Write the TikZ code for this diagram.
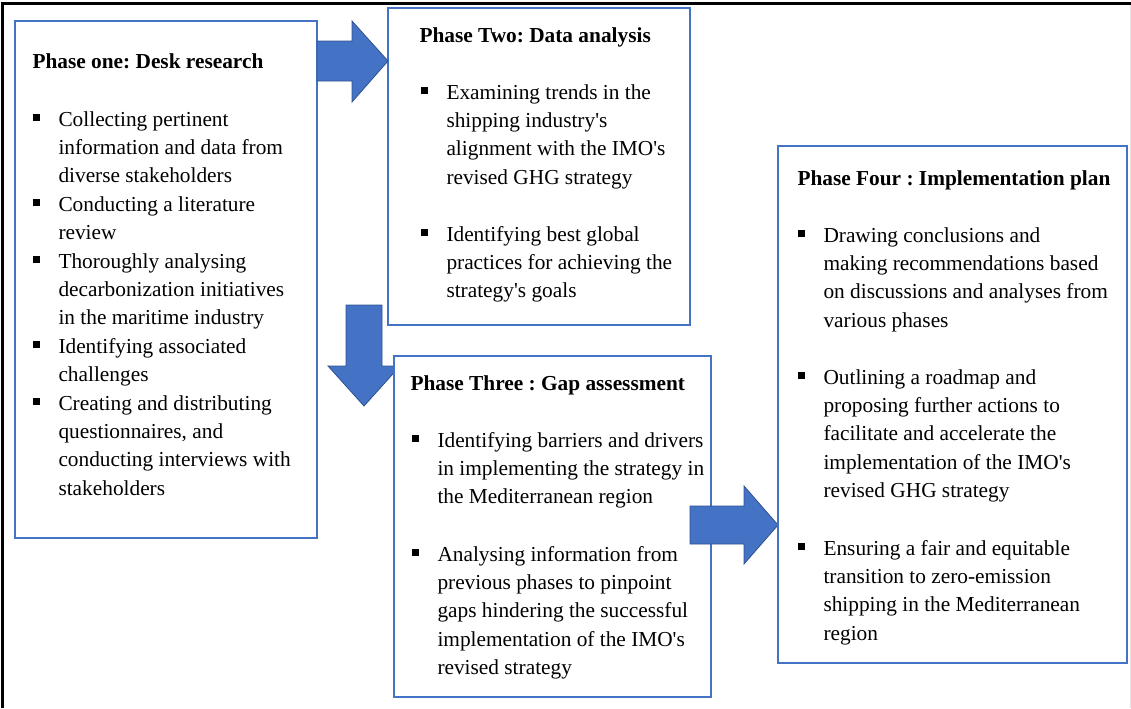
\documentclass[tikz,border=0pt]{standalone}
\usepackage{fontspec}
\setmainfont{Liberation Serif}[Ligatures=TeXOff]
\frenchspacing

\definecolor{boxblue}{RGB}{68,114,196}
\definecolor{arrowline}{RGB}{47,82,143}
% small square bullet hanging left of the item text
\newcommand{\sqbul}{\llap{\rule[3.75pt]{4.9pt}{4.9pt}\hspace{14pt}}}

\tikzset{every picture/.style={line width=0.75pt}}

\begin{document}
\begin{tikzpicture}[x=0.75pt,y=0.75pt,yscale=-1,xscale=1,
  phase/.style={draw=boxblue, line width=1.8pt, fill=white, inner sep=0, outer sep=0, anchor=north west},
  blockarrow/.style={fill=boxblue, draw=arrowline, line width=0.6pt},
  heading/.style={anchor=base west, inner sep=0, font=\fontsize{16}{21.3}\selectfont\bfseries},
  bullets/.style={anchor=base west, inner sep=0, align=left, font=\fontsize{16}{21.3}\selectfont}]
\useasboundingbox (0,0) rectangle (1131,708);

%Frame
\draw [line width=2.25pt] (2,708) -- (2,3) -- (1131,3) ;
\draw [color={rgb, 255:red, 225; green, 225; blue, 225 }] (1130,5) -- (1130,708) ;

%Shape: Rectangle
\node [phase, minimum width=226.5pt, minimum height=387.75pt] (p1) at (15,21) {};
%Shape: Rectangle
\node [phase, minimum width=226.5pt, minimum height=237.75pt] (p2) at (388,8) {};

%Shape: Right Arrow
\draw [blockarrow] (p1.east |- 0,41) -- (352,41) -- (352,21) -- (p2.west |- 0,61) -- (352,102) -- (352,81) -- (p1.east |- 0,81) -- cycle ;
%Shape: Down Arrow
\draw [blockarrow] (346,305) -- (382,305) -- (382,366) -- (400,366) -- (364,406) -- (328,366) -- (346,366) -- cycle ;

%Shape: Rectangle
\node [phase, minimum width=237.75pt, minimum height=255.75pt] (p3) at (394,356) {};

%Shape: Right Arrow
\draw [blockarrow] (690,506) -- (744,506) -- (744,486) -- (778,525) -- (744,564) -- (744,544) -- (690,544) -- cycle ;

%Shape: Rectangle
\node [phase, minimum width=261.75pt, minimum height=387.75pt] (p4) at (778,146) {};

% Text Node (bullet nodes sit on the baseline of their last line)
\node [heading] (h1) at (32,68) {Phase one: Desk research};
% Text Node
\node [bullets] (i1a) at (58,182.8) {\sqbul Collecting pertinent\\information and data from\\diverse stakeholders};
% Text Node
\node [bullets] (i1b) at (58,239.4) {\sqbul Conducting a literature\\review};
% Text Node
\node [bullets] (i1c) at (58,324.8) {\sqbul Thoroughly analysing\\decarbonization initiatives\\in the maritime industry};
% Text Node
\node [bullets] (i1d) at (58,381.4) {\sqbul Identifying associated\\challenges};
% Text Node
\node [bullets] (i1e) at (58,495.2) {\sqbul Creating and distributing\\questionnaires, and\\conducting interviews with\\stakeholders};

% Text Node
\node [heading] (h2) at (419,42) {Phase Two: Data analysis};
% Text Node
\node [bullets] (i2a) at (446,184.2) {\sqbul Examining trends in the\\shipping industry's\\alignment with the IMO's\\revised GHG strategy};
% Text Node
\node [bullets] (i2b) at (446,297.8) {\sqbul Identifying best global\\practices for achieving the\\strategy's goals};

% Text Node
\node [heading] (h3) at (410,390) {Phase Three : Gap assessment};
% Text Node
\node [bullets] (i3a) at (437,503.8) {\sqbul Identifying barriers and drivers\\in implementing the strategy in\\the Mediterranean region};
% Text Node
\node [bullets] (i3b) at (437,674.6) {\sqbul Analysing information from\\previous phases to pinpoint\\gaps hindering the successful\\implementation of the IMO's\\revised strategy};

% Text Node
\node [heading] (h4) at (797,185) {Phase Four : Implementation plan};
% Text Node
\node [bullets] (i4a) at (823,327.2) {\sqbul Drawing conclusions and\\making recommendations based\\on discussions and analyses from\\various phases};
% Text Node
\node [bullets] (i4b) at (823,497.6) {\sqbul Outlining a roadmap and\\proposing further actions to\\facilitate and accelerate the\\implementation of the IMO's\\revised GHG strategy};
% Text Node
\node [bullets] (i4c) at (823,640.2) {\sqbul Ensuring a fair and equitable\\transition to zero-emission\\shipping in the Mediterranean\\region};

\end{tikzpicture}
\end{document}
